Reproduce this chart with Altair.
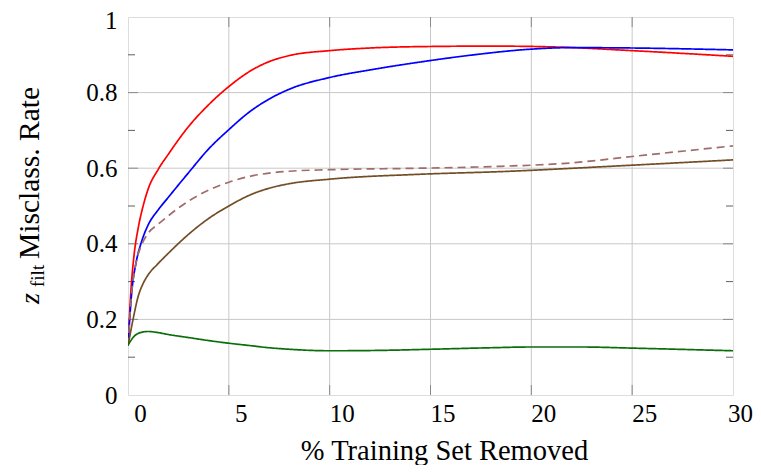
import altair as alt
import pandas as pd

# ---- data ----
red_x = [0, 0.15, 0.3, 0.5, 0.75, 1.0, 1.5, 2, 3, 4, 5, 6, 7, 8, 10, 12, 15, 18, 21, 25, 30]
red_y = [0.13, 0.28, 0.37, 0.44, 0.50, 0.545, 0.597, 0.637, 0.71, 0.768, 0.816, 0.855, 0.882, 0.898, 0.911, 0.918, 0.922, 0.923, 0.921, 0.911, 0.896]

blue_x = [0, 0.2, 0.4, 0.7, 1.0, 1.5, 2, 3, 4, 5, 6, 7, 8, 10, 12, 14.5, 17, 20, 22, 25, 30]
blue_y = [0.13, 0.28, 0.35, 0.41, 0.45, 0.49, 0.523, 0.588, 0.651, 0.702, 0.748, 0.783, 0.809, 0.84, 0.86, 0.881, 0.899, 0.915, 0.919, 0.918, 0.913]

dash_x = [0, 0.2, 0.4, 0.7, 1.0, 1.5, 2, 3, 4, 5, 6, 7, 8, 10, 14.5, 18.5, 22, 25, 30]
dash_y = [0.13, 0.28, 0.35, 0.40, 0.428, 0.452, 0.474, 0.513, 0.542, 0.563, 0.578, 0.587, 0.592, 0.596, 0.6, 0.605, 0.614, 0.631, 0.659]

brown_x = [0, 0.25, 0.5, 0.75, 1.0, 1.5, 2, 3, 4, 5, 6, 7, 8, 10, 14.5, 18.5, 25, 30]
brown_y = [0.13, 0.2, 0.26, 0.295, 0.318, 0.348, 0.375, 0.425, 0.467, 0.5, 0.528, 0.547, 0.559, 0.571, 0.584, 0.591, 0.608, 0.622]

green_x = [0, 0.3, 0.6, 1.0, 1.5, 2, 3, 4, 5, 6, 7, 8, 10, 12.5, 15, 18, 20, 22.5, 25, 30]
green_y = [0.132, 0.155, 0.165, 0.168, 0.165, 0.16, 0.152, 0.144, 0.137, 0.131, 0.125, 0.121, 0.117, 0.118, 0.121, 0.125, 0.127, 0.127, 0.124, 0.117]

series_names = ["red", "blue", "dashed", "brown", "green"]
series_colors = ["#ff0000", "#0000ff", "#a06b6b", "#734d26", "#0a6e0a"]
series_dash = [[1, 0], [1, 0], [8, 5], [1, 0], [1, 0]]

x_ticks = [0, 5, 10, 15, 20, 25, 30]
x_grid = [5, 10, 15, 20, 25]
y_ticks = [0, 0.2, 0.4, 0.6, 0.8, 1.0]
y_grid = [0.2, 0.4, 0.6, 0.8]
y_minor = [0.1, 0.3, 0.5, 0.7, 0.9]

FONT = "Liberation Serif"
W, H = 605, 378

rows = []
for name, xs, ys in [("red", red_x, red_y), ("blue", blue_x, blue_y),
                     ("dashed", dash_x, dash_y), ("brown", brown_x, brown_y),
                     ("green", green_x, green_y)]:
    for i, (a, b) in enumerate(zip(xs, ys)):
        rows.append({"series": name, "x": a, "y": b, "order": i})
df = pd.DataFrame(rows)

xscale = alt.Scale(domain=[0, 30], nice=False, zero=False)
yscale = alt.Scale(domain=[0, 1], nice=False, zero=False)

lines = alt.Chart(df).mark_line(strokeWidth=1.7, clip=True, interpolate="monotone").encode(
    x=alt.X("x:Q", scale=xscale,
            axis=alt.Axis(values=x_ticks, grid=False, ticks=False, domain=False,
                          labelFont=FONT, labelFontSize=25, labelColor="black",
                          labelOffset={"condition": {"test": "datum.value == 30", "value": 7}, "value": 12},
                          labelPadding=6, labelFlush=False,
                          title="% Training Set Removed", titleFont=FONT,
                          titleFontSize=28.5, titleFontWeight="normal", titleColor="black",
                          titleX=316, titleY=64, titleAlign="center",
                          titleBaseline="alphabetic")),
    y=alt.Y("y:Q", scale=yscale,
            axis=alt.Axis(values=y_ticks, grid=False, ticks=False, domain=False,
                          format=".1~f", labelFont=FONT, labelFontSize=25,
                          labelOffset={"condition": {"test": "datum.value == 1", "value": 3}, "value": 0},
                          labelColor="black", labelPadding=11, labelFlush=False,
                          title=None)),
    color=alt.Color("series:N", scale=alt.Scale(domain=series_names, range=series_colors), legend=None),
    strokeDash=alt.StrokeDash("series:N", scale=alt.Scale(domain=series_names, range=series_dash), legend=None),
    order="order:Q",
)

gx = pd.DataFrame({"v": x_grid})
gy = pd.DataFrame({"v": y_grid})
my = pd.DataFrame({"v": y_minor})

grid_x = alt.Chart(gx).mark_rule(color="#c8c8c8", strokeWidth=1).encode(
    x=alt.X("v:Q", scale=xscale), y=alt.value(0), y2=alt.value(H))
grid_y = alt.Chart(gy).mark_rule(color="#c8c8c8", strokeWidth=1).encode(
    y=alt.Y("v:Q", scale=yscale), x=alt.value(0), x2=alt.value(W))

tick_col = "#8a8a8a"
tx_bot = alt.Chart(gx).mark_rule(color=tick_col, strokeWidth=1).encode(
    x=alt.X("v:Q", scale=xscale), y=alt.value(H), y2=alt.value(H - 10))
tx_top = alt.Chart(gx).mark_rule(color=tick_col, strokeWidth=1).encode(
    x=alt.X("v:Q", scale=xscale), y=alt.value(0), y2=alt.value(10))
ty_l = alt.Chart(gy).mark_rule(color=tick_col, strokeWidth=1).encode(
    y=alt.Y("v:Q", scale=yscale), x=alt.value(0), x2=alt.value(10))
ty_r = alt.Chart(gy).mark_rule(color=tick_col, strokeWidth=1).encode(
    y=alt.Y("v:Q", scale=yscale), x=alt.value(W), x2=alt.value(W - 10))
tm_l = alt.Chart(my).mark_rule(color="#606060", strokeWidth=1).encode(
    y=alt.Y("v:Q", scale=yscale), x=alt.value(0), x2=alt.value(7))
tm_r = alt.Chart(my).mark_rule(color="#606060", strokeWidth=1).encode(
    y=alt.Y("v:Q", scale=yscale), x=alt.value(W), x2=alt.value(W - 7))

# y-axis title built from text pieces (z_filt subscript)
t_z = alt.Chart(pd.DataFrame({"t": ["z"]})).mark_text(font=FONT, fontSize=28, fontStyle="italic", angle=270,
                                   align="left", baseline="alphabetic", color="black").encode(
    text="t:N", x=alt.value(-89), y=alt.value(287))
t_f = alt.Chart(pd.DataFrame({"t": ["filt"]})).mark_text(font=FONT, fontSize=19, angle=270,
                                   align="left", baseline="alphabetic", color="black").encode(
    text="t:N", x=alt.value(-84), y=alt.value(270))
t_m = alt.Chart(pd.DataFrame({"t": ["Misclass. Rate"]})).mark_text(font=FONT, fontSize=29.5, angle=270,
                                   align="left", baseline="alphabetic", color="black").encode(
    text="t:N", x=alt.value(-89), y=alt.value(242))

chart = alt.layer(grid_x, grid_y, tx_bot, tx_top, ty_l, ty_r, tm_l, tm_r, lines, t_z, t_f, t_m).properties(
    width=W, height=H,
    autosize=alt.AutoSizeParams(type="none"),
    padding={"left": 120, "top": 9, "right": 20, "bottom": 70},
).configure_view(stroke="black", strokeWidth=1.6).configure(
    background="white", font=FONT
).configure_axis(labelFont=FONT, titleFont=FONT)

chart.save("out.html", embed_options={"renderer": "svg", "actions": False})
